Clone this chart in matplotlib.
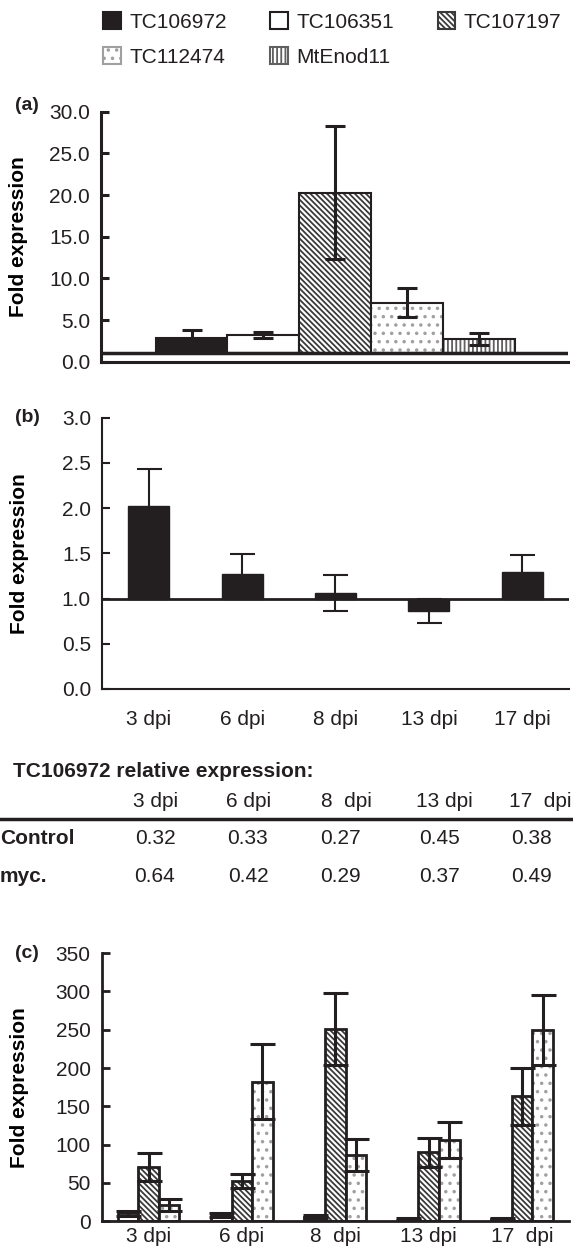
import matplotlib
matplotlib.use('Agg')
import matplotlib.pyplot as plt
from matplotlib.patches import Patch
import numpy as np

# ---- data ----
genes = ['TC106972', 'TC106351', 'TC107197', 'TC112474', 'MtEnod11']
fold_a = [2.9, 3.2, 20.3, 7.1, 2.7]
err_a = [0.9, 0.35, 8.0, 1.7, 0.74]

days_b = ['3 dpi', '6 dpi', '8 dpi', '13 dpi', '17 dpi']
fold_b = [2.02, 1.27, 1.06, 0.86, 1.29]
err_b = [0.41, 0.22, 0.2, 0.13, 0.19]

table_title = 'TC106972 relative expression:'
table_days = ['3 dpi', '6 dpi', '8  dpi', '13 dpi', '17  dpi']
control_vals = ['0.32', '0.33', '0.27', '0.45', '0.38']
myc_vals = ['0.64', '0.42', '0.29', '0.37', '0.49']

days_c = ['3 dpi', '6 dpi', '8  dpi', '13 dpi', '17  dpi']
tc106351_c = [10, 8, 6, 2.5, 2.5]
tc106351_err = [3, 2, 2, 1, 1]
tc107197_c = [71, 52, 251, 90, 163]
tc107197_err = [18, 9, 47, 19, 37]
tc112474_c = [21, 182, 86, 106, 250]
tc112474_err = [8, 49, 21, 24, 46]

INK = '#231f20'
plt.rcParams['font.family'] = ['Liberation Sans', 'DejaVu Sans']
plt.rcParams['font.size'] = 15
plt.rcParams['text.color'] = INK
plt.rcParams['hatch.linewidth'] = 1.3

# bar styles per gene: (face, hatch, hatch colour)
styles = {
    'TC106972': ('#231f20', None, INK),
    'TC106351': ('white', None, INK),
    'TC107197': ('white', '\\' * 6, '#3a3a3a'),
    'TC112474': ('white', '..', '#a0a0a0'),
    'MtEnod11': ('white', '|' * 4, '#606060'),
}


def styled_bar(ax, x, h, w, gene, bottom=0, lw=1.5):
    face, hatch, hcol = styles[gene]
    if hatch:
        ax.bar(x, h, w, bottom=bottom, color=face, edgecolor=hcol, hatch=hatch, linewidth=0)
        ax.bar(x, h, w, bottom=bottom, fill=False, edgecolor=INK, linewidth=lw)
    else:
        ax.bar(x, h, w, bottom=bottom, color=face, edgecolor=INK, linewidth=lw)


def style_axis(ax, lw):
    for s in ['top', 'right']:
        ax.spines[s].set_visible(False)
    ax.spines['left'].set_linewidth(lw)
    ax.spines['bottom'].set_linewidth(lw)
    ax.spines['left'].set_color(INK)
    ax.spines['bottom'].set_color(INK)
    ax.tick_params(axis='y', direction='in', length=6, width=lw, pad=8, colors=INK, labelsize=15)
    ax.tick_params(axis='x', length=0, colors=INK, labelsize=15)


fig = plt.figure(figsize=(5.73, 12.55), dpi=100)

# ---- panel (a) ----
ax_a = fig.add_axes([0.1763, 0.7118, 0.815, 0.1992])
xa = np.arange(len(genes))
for i, g in enumerate(genes):
    styled_bar(ax_a, xa[i], fold_a[i] - 1, 1.0, g, bottom=1, lw=1.5)
ax_a.errorbar(xa, fold_a, yerr=err_a, fmt='none', ecolor=INK, elinewidth=2.2,
              capsize=7, capthick=2.2)
ax_a.axhline(1, color=INK, lw=2.5)
ax_a.set_xlim(-1.26, 5.24)
ax_a.set_ylim(0, 30)
ax_a.set_yticks(np.arange(0, 31, 5))
ax_a.set_yticklabels(['%.1f' % v for v in np.arange(0, 31, 5)])
ax_a.set_xticks([])
style_axis(ax_a, 2.2)
ax_a.set_ylabel('Fold expression', fontweight='bold', fontsize=15)
ax_a.yaxis.set_label_coords(-0.157, 0.5)

# ---- panel (b) ----
ax_b = fig.add_axes([0.178, 0.451, 0.815, 0.2162])
xb = np.arange(len(days_b))
ax_b.bar(xb, np.array(fold_b) - 1, 0.44, bottom=1, color=INK, edgecolor=INK, linewidth=1)
ax_b.errorbar(xb, fold_b, yerr=err_b, fmt='none', ecolor=INK, elinewidth=1.5,
              capsize=9, capthick=1.5)
ax_b.axhline(1, color=INK, lw=2)
ax_b.set_xlim(-0.5, 4.5)
ax_b.set_ylim(0, 3)
ax_b.set_yticks(np.arange(0, 3.01, 0.5))
ax_b.set_yticklabels(['%.1f' % v for v in np.arange(0, 3.01, 0.5)])
ax_b.set_xticks(xb)
ax_b.set_xticklabels(days_b)
style_axis(ax_b, 1.5)
ax_b.tick_params(axis='x', pad=15)
ax_b.set_ylabel('Fold expression', fontweight='bold', fontsize=15)
ax_b.yaxis.set_label_coords(-0.157, 0.5)

# ---- table ----
hx = [0.2717, 0.4346, 0.6038, 0.7749, 0.9424]
vx = [0.2705, 0.4328, 0.5946, 0.7672, 0.9284]
fig.text(0.022, 0.3849, table_title, fontweight='bold', fontsize=15, va='center')
for i in range(len(table_days)):
    fig.text(hx[i], 0.3612, table_days[i], ha='center', va='center', fontsize=15)
    fig.text(vx[i], 0.3315, control_vals[i], ha='center', va='center', fontsize=15)
    fig.text(vx[i], 0.3012, myc_vals[i], ha='center', va='center', fontsize=15)
fig.text(0.0, 0.3315, 'Control', fontweight='bold', va='center', fontsize=15)
fig.text(0.0, 0.3012, 'myc.', fontweight='bold', va='center', fontsize=15)
fig.add_artist(plt.Line2D([0, 1], [0.3474, 0.3474], color=INK, lw=2.5,
                          transform=fig.transFigure))

# ---- panel (c) ----
ax_c = fig.add_axes([0.1777, 0.027, 0.815, 0.2135])
xc = np.arange(len(days_c))
bw = 0.22
series_c = [('TC106351', tc106351_c, tc106351_err, -bw),
            ('TC107197', tc107197_c, tc107197_err, 0),
            ('TC112474', tc112474_c, tc112474_err, bw)]
for g, vals, errs, off in series_c:
    for i in range(len(xc)):
        styled_bar(ax_c, xc[i] + off, vals[i], bw, g, lw=2)
    ax_c.errorbar(xc + off, vals, yerr=errs, fmt='none', ecolor=INK, elinewidth=2.2,
                  capsize=9, capthick=2.2)
ax_c.set_xlim(-0.5, 4.5)
ax_c.set_ylim(0, 350)
ax_c.set_yticks(np.arange(0, 351, 50))
ax_c.set_xticks(xc)
ax_c.set_xticklabels(days_c)
style_axis(ax_c, 2)
ax_c.tick_params(axis='x', pad=4)
ax_c.set_ylabel('Fold expression', fontweight='bold', fontsize=15)
ax_c.yaxis.set_label_coords(-0.157, 0.5)

# panel letters
fig.text(0.026, 1 - 105 / 1255, '(a)', fontweight='bold', fontsize=14, va='center')
fig.text(0.026, 1 - 417 / 1255, '(b)', fontweight='bold', fontsize=14, va='center')
fig.text(0.026, 1 - 953 / 1255, '(c)', fontweight='bold', fontsize=14, va='center')

# ---- legend (row-major order through column filling) ----
handles = []
for g in genes:
    face, hatch, hcol = styles[g]
    handles.append(Patch(facecolor=face, edgecolor=INK if hatch is None else hcol,
                         hatch=hatch, linewidth=1.5, label=g))
order = [0, 3, 1, 4, 2]
fig.legend([handles[i] for i in order], [genes[i] for i in order], ncol=3,
           loc='upper left', bbox_to_anchor=(103 / 573, 1 - 12 / 1255),
           frameon=False, fontsize=15, handlelength=0.85, handleheight=0.85,
           handletextpad=0.4, columnspacing=2.1, labelspacing=0.75, borderpad=0,
           borderaxespad=0)

fig.savefig('out.png', dpi=100)
